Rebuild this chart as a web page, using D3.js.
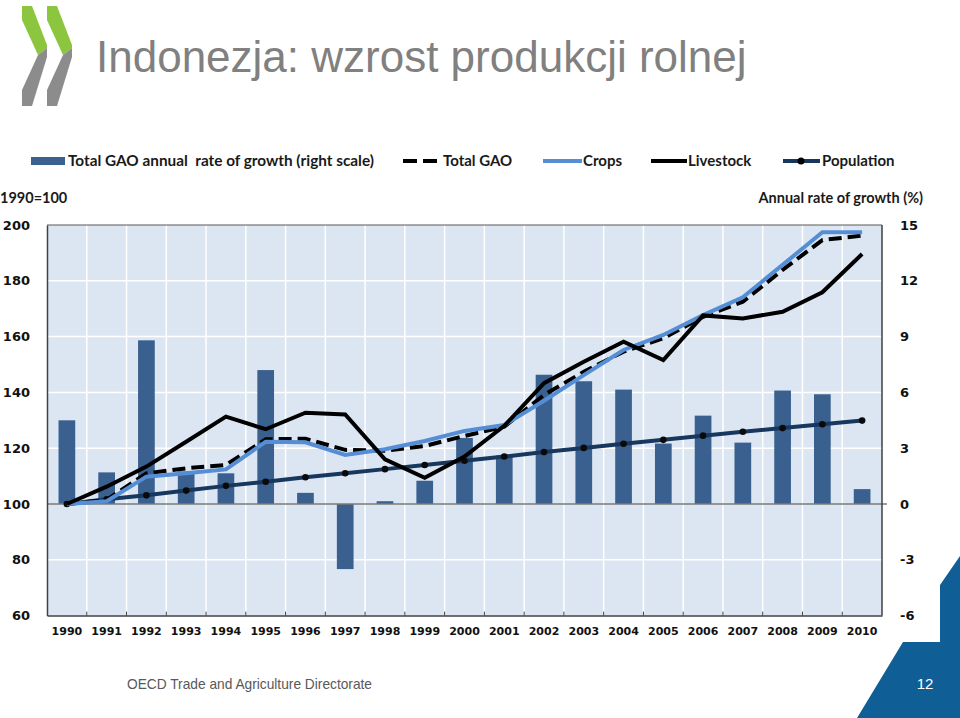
<!DOCTYPE html>
<html><head><meta charset="utf-8">
<script src="https://cdn.jsdelivr.net/npm/d3@7/dist/d3.min.js"></script>
<style>body{margin:0;background:#fff;} svg{display:block;} text{white-space:pre;}</style>
</head><body>
<svg id="c" width="960" height="718"></svg>
<script>
const years = ["1990","1991","1992","1993","1994","1995","1996","1997","1998","1999","2000","2001","2002","2003","2004","2005","2006","2007","2008","2009","2010"];
const growthRate = [4.5,1.7,8.8,1.75,1.65,7.2,0.6,-3.5,0.15,1.25,3.55,2.6,6.95,6.6,6.15,3.25,4.75,3.3,6.1,5.9,0.8];
const totalGAO = [100,101.5,111.0,112.8,114.0,123.2,123.4,119.4,119.1,120.8,124.4,127.7,139.1,147.4,154.6,159.4,167.1,172.5,183.9,194.6,196.2];
const crops = [100,101.0,109.8,111.0,112.4,122.3,122.1,117.6,119.6,122.6,126.2,128.3,137.0,146.2,155.2,160.6,167.7,174.1,185.7,197.4,197.4];
const livestock = [100,106.2,113.4,122.3,131.3,126.8,132.7,132.1,116.0,109.4,117.0,128.0,143.3,151.0,158.2,151.6,167.6,166.5,168.9,175.9,189.6];
const population = [100,101.7,103.1,104.8,106.5,108.0,109.6,111.0,112.5,114.0,115.5,117.0,118.6,120.1,121.6,123.0,124.5,125.9,127.2,128.6,129.9];
const leftTicks = [60,80,100,120,140,160,180,200];
const rightTicks = [-6,-3,0,3,6,9,12,15];
const legendLabels = ["Total GAO annual  rate of growth (right scale)","Total GAO","Crops","Livestock","Population"];

const svg = d3.select("#c");
const L = 47, R = 882, T = 225, B = 615.6;

// logo
const green = "#8cc63f", gray = "#8c8c8c";
[0, 25].forEach(dx => {
  const g = svg.append("g").attr("transform", `translate(${dx},0)`);
  g.append("polygon").attr("points", "22,6 32,6 47,45 47,48 38,55 22,20").attr("fill", green);
  g.append("polygon").attr("points", "38,55 47,48 47,57 32,106 22,106 22,90").attr("fill", gray);
});

svg.append("text").attr("x", 96).attr("y", 72).attr("font-family", "Liberation Sans, Arial, sans-serif")
  .attr("font-size", 44).attr("fill", "#808080").text("Indonezja: wzrost produkcji rolnej");

// bottom right decoration
svg.append("polygon").attr("points", "940,585 960,556 960,718 857,718 903,642 940,642").attr("fill", "#0f5e96");
svg.append("text").attr("x", 925).attr("y", 689).attr("text-anchor", "middle").attr("font-family", "Liberation Sans, Arial, sans-serif")
  .attr("font-size", 15).attr("fill", "#fff").text("12");
svg.append("text").attr("x", 127).attr("y", 689).attr("font-family", "Liberation Sans, Arial, sans-serif")
  .attr("font-size", 14.5).attr("fill", "#595959").attr("textLength", 245).attr("lengthAdjust", "spacingAndGlyphs")
  .text("OECD Trade and Agriculture Directorate");

// scales
const x = d3.scaleBand().domain(years).range([L, R]).padding(0);
const yL = d3.scaleLinear().domain([60, 200]).range([B, T]);
const yR = d3.scaleLinear().domain([-6, 15]).range([B, T]);
const cx = d => x(d) + x.bandwidth() / 2;

// plot background
svg.append("rect").attr("x", L).attr("y", T).attr("width", R - L).attr("height", B - T).attr("fill", "#dce6f2");
// grid
svg.append("g").selectAll("line").data(leftTicks.filter(v => v !== 60 && v !== 200 && v !== 100)).join("line")
  .attr("x1", L).attr("x2", R).attr("y1", d => yL(d)).attr("y2", d => yL(d)).attr("stroke", "#fff").attr("stroke-width", 1.5);
svg.append("g").selectAll("line").data(years.slice(1)).join("line")
  .attr("x1", d => x(d)).attr("x2", d => x(d)).attr("y1", T).attr("y2", B).attr("stroke", "#fff").attr("stroke-width", 1.5);

// bars
const bw = x.bandwidth() * 0.42;
svg.append("g").selectAll("rect").data(years).join("rect")
  .attr("x", d => cx(d) - bw / 2).attr("width", bw)
  .attr("y", (d, i) => Math.min(yR(growthRate[i]), yR(0)))
  .attr("height", (d, i) => Math.abs(yR(growthRate[i]) - yR(0)))
  .attr("fill", "#3a6090");

// zero line
svg.append("line").attr("x1", L).attr("x2", R + 5).attr("y1", yR(0)).attr("y2", yR(0)).attr("stroke", "#7a7a7a").attr("stroke-width", 1.5);

// border/axes
svg.append("line").attr("x1", L).attr("x2", R).attr("y1", T).attr("y2", T).attr("stroke", "#595959").attr("stroke-width", 1);
svg.append("line").attr("x1", R).attr("x2", R).attr("y1", T).attr("y2", B).attr("stroke", "#404040").attr("stroke-width", 1.5);

const fontAx = "DejaVu Sans, Verdana, sans-serif";
const axL = svg.append("g").attr("transform", `translate(${L},0)`).call(d3.axisLeft(yL).tickValues(leftTicks).tickSize(0).tickPadding(17));
axL.select(".domain").attr("stroke", "#404040").attr("stroke-width", 1.5);
axL.selectAll("text").attr("font-family", fontAx).attr("font-weight", "bold").attr("font-size", 13).attr("fill", "#111");

const axR = svg.append("g").attr("transform", `translate(${R},0)`)
  .call(d3.axisRight(yR).tickValues(rightTicks).tickFormat(d => String(d)).tickSize(0).tickPadding(18));
axR.select(".domain").remove();
axR.selectAll("text").attr("font-family", fontAx).attr("font-weight", "bold").attr("font-size", 13).attr("fill", "#111");

const axB = svg.append("g").attr("transform", `translate(0,${B})`).call(d3.axisBottom(x).tickSize(0).tickPadding(12));
axB.select(".domain").attr("stroke", "#404040").attr("stroke-width", 1.5);
axB.selectAll("text").attr("font-family", fontAx).attr("font-weight", "bold").attr("font-size", 11).attr("fill", "#111");
svg.append("g").selectAll("line").data(years.slice(1)).join("line")
  .attr("x1", d => x(d)).attr("x2", d => x(d)).attr("y1", B).attr("y2", B - 4).attr("stroke", "#404040").attr("stroke-width", 1);

// lines
const line = d3.line().x((d, i) => cx(years[i])).y(d => yL(d));
svg.append("path").datum(population).attr("d", line).attr("fill", "none").attr("stroke", "#17375e").attr("stroke-width", 4);
svg.append("g").selectAll("circle").data(population).join("circle")
  .attr("cx", (d, i) => cx(years[i])).attr("cy", d => yL(d)).attr("r", 3.3).attr("fill", "#0a0a0a");
svg.append("path").datum(totalGAO).attr("d", line).attr("fill", "none").attr("stroke", "#000").attr("stroke-width", 4).attr("stroke-dasharray", "13,6");
svg.append("path").datum(crops).attr("d", line).attr("fill", "none").attr("stroke", "#558ed5").attr("stroke-width", 4);
svg.append("path").datum(livestock).attr("d", line).attr("fill", "none").attr("stroke", "#000").attr("stroke-width", 4);

// legend
const fontLg = "Lato, Calibri, sans-serif";
const lg = svg.append("g").attr("font-family", fontLg).attr("font-weight", "bold").attr("font-size", 15).attr("fill", "#1a1a1a");
lg.append("rect").attr("x", 31).attr("y", 157).attr("width", 34).attr("height", 8).attr("fill", "#3a6090");
lg.append("text").attr("x", 68).attr("y", 165.5).attr("textLength", 306).attr("lengthAdjust", "spacingAndGlyphs").text(legendLabels[0]);
lg.append("line").attr("x1", 403).attr("x2", 439).attr("y1", 161).attr("y2", 161).attr("stroke", "#000").attr("stroke-width", 4).attr("stroke-dasharray", "14,6");
lg.append("text").attr("x", 443).attr("y", 165.5).text(legendLabels[1]);
lg.append("line").attr("x1", 543).attr("x2", 582).attr("y1", 161).attr("y2", 161).attr("stroke", "#558ed5").attr("stroke-width", 4);
lg.append("text").attr("x", 583).attr("y", 165.5).text(legendLabels[2]);
lg.append("line").attr("x1", 651).attr("x2", 687).attr("y1", 161).attr("y2", 161).attr("stroke", "#000").attr("stroke-width", 4);
lg.append("text").attr("x", 688).attr("y", 165.5).text(legendLabels[3]);
lg.append("line").attr("x1", 783).attr("x2", 820).attr("y1", 161).attr("y2", 161).attr("stroke", "#17375e").attr("stroke-width", 4);
lg.append("circle").attr("cx", 801).attr("cy", 161).attr("r", 3.5).attr("fill", "#000");
lg.append("text").attr("x", 822).attr("y", 165.5).text(legendLabels[4]);

svg.append("text").attr("x", 0).attr("y", 203).attr("font-family", fontLg).attr("font-weight", "bold").attr("font-size", 14.5).attr("fill", "#1a1a1a").text("1990=100");
svg.append("text").attr("x", 923).attr("y", 203).attr("text-anchor", "end").attr("font-family", fontLg).attr("font-weight", "bold").attr("font-size", 14.5).attr("fill", "#1a1a1a").text("Annual rate of growth (%)");
</script>
</body></html>
